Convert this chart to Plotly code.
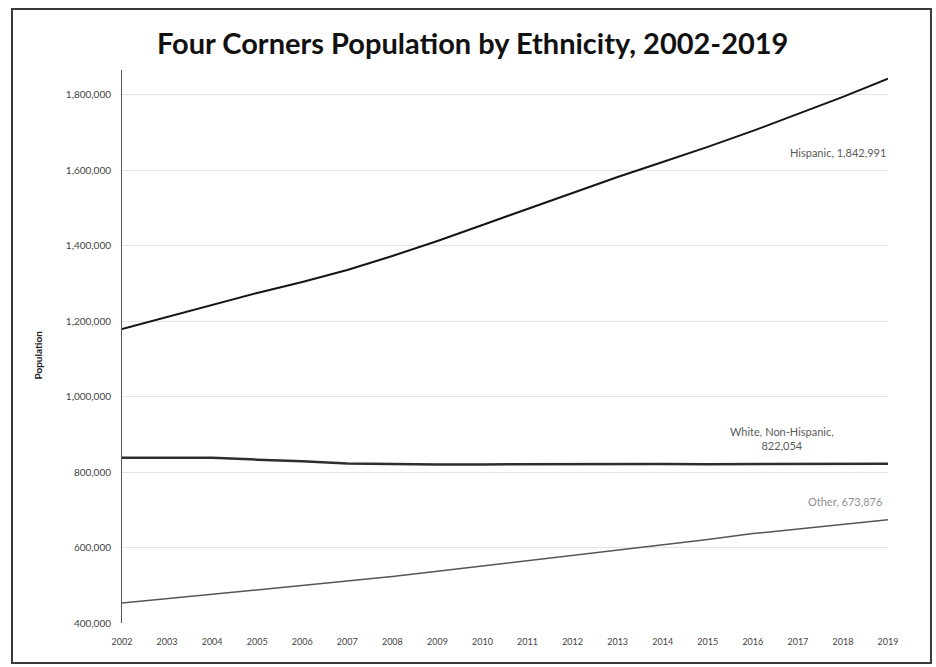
import plotly.graph_objects as go

# Four Corners population by ethnicity, 2002-2019
years = list(range(2002, 2020))

hispanic = [1179400, 1211300, 1243100, 1274900, 1304100, 1335900, 1373000,
            1412800, 1455200, 1497700, 1540100, 1582500, 1622300, 1662100,
            1704500, 1749600, 1794700, 1842991]

white_non_hispanic = [838000, 838500, 838000, 833000, 829000, 823000, 820500,
                      820000, 820500, 821000, 820500, 821000, 821500, 821000,
                      821500, 822000, 821800, 822054]

other = [452800, 464500, 476100, 487500, 499200, 510900, 523100, 536900,
         550900, 564700, 578800, 592500, 606600, 621200, 637000, 649500,
         661500, 673876]

y_ticks = [400000, 600000, 800000, 1000000, 1200000, 1400000, 1600000, 1800000]

FONT = "Lato"

fig = go.Figure()

fig.add_trace(go.Scatter(x=years, y=hispanic, mode="lines", name="Hispanic",
                         line=dict(color="#151515", width=2)))
fig.add_trace(go.Scatter(x=years, y=white_non_hispanic, mode="lines",
                         name="White, Non-Hispanic",
                         line=dict(color="#2e2e2e", width=2.5)))
fig.add_trace(go.Scatter(x=years, y=other, mode="lines", name="Other",
                         line=dict(color="#555555", width=1.5)))

# end-of-line labels
fig.add_annotation(x=years[-1], y=hispanic[-1], xref="x", yref="y",
                   text=f"Hispanic, {hispanic[-1]:,}", showarrow=False,
                   xanchor="right", yanchor="middle", yshift=-74, xshift=0,
                   font=dict(family=FONT, size=11, color="#5a5a5a"))
fig.add_annotation(x=years[-1], y=white_non_hispanic[-1], xref="x", yref="y",
                   text=f"White, Non-Hispanic,<br>{white_non_hispanic[-1]:,}",
                   showarrow=False, xanchor="center", yanchor="middle",
                   yshift=25, xshift=-106, align="center",
                   font=dict(family=FONT, size=11, color="#5a5a5a"))
fig.add_annotation(x=years[-1], y=other[-1], xref="x", yref="y",
                   text=f"Other, {other[-1]:,}", showarrow=False,
                   xanchor="right", yanchor="middle", yshift=18, xshift=-4,
                   font=dict(family=FONT, size=11, color="#8f8f8f"))

# rotated axis title
fig.add_annotation(x=-0.11, y=0.485, xref="paper", yref="paper",
                   text="<b>Population</b>", showarrow=False, textangle=-90,
                   xanchor="center", yanchor="middle",
                   font=dict(family=FONT, size=10, color="#222222"))

# chart frame
fig.add_shape(type="rect", xref="paper", yref="paper",
              x0=-0.1436, x1=1.0561, y0=-0.0723, y1=1.1103,
              line=dict(color="#3a3a3a", width=2), fillcolor="rgba(0,0,0,0)",
              layer="below")

fig.update_layout(
    width=936, height=667,
    margin=dict(l=122, r=48, t=70, b=44),
    paper_bgcolor="white", plot_bgcolor="white",
    showlegend=False,
    title=dict(text="<b>Four Corners Population by Ethnicity, 2002-2019</b>",
               x=0.505, xanchor="center", y=0.935, yanchor="middle",
               font=dict(family=FONT, size=29, color="#111111")),
    xaxis=dict(range=[years[0], years[-1]], tickvals=years,
               ticktext=[str(y) for y in years], showgrid=False,
               showline=False, zeroline=False, ticks="",
               ticklabelstandoff=12,
               tickfont=dict(family=FONT, size=9, color="#444444")),
    yaxis=dict(range=[400000, 1866000], tickvals=y_ticks,
               ticktext=[f"{v:,}" for v in y_ticks],
               showgrid=True, gridcolor="#e4e4e4", gridwidth=1,
               showline=True, linecolor="#555555", linewidth=1,
               zeroline=False, ticks="", ticklabelstandoff=8,
               tickfont=dict(family=FONT, size=10, color="#444444")),
)

fig.write_html("out.html")
